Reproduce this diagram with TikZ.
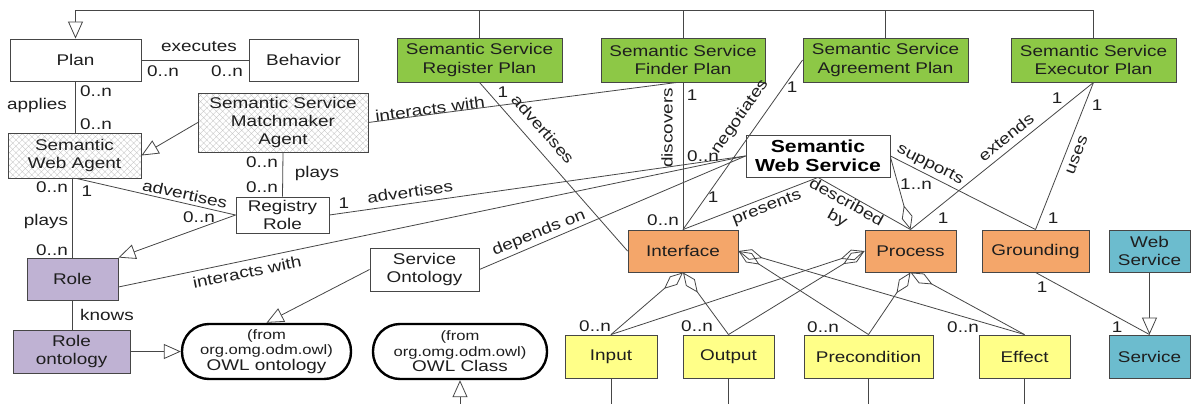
\documentclass[tikz,border=0pt]{standalone}
\usepackage{fontspec}
\setmainfont[FakeStretch=1.22]{Liberation Sans}
\usetikzlibrary{arrows.meta,patterns.meta,calc}

\definecolor{planGreen}{RGB}{141,200,70}
\definecolor{owlsOrange}{RGB}{244,166,106}
\definecolor{ioYellow}{RGB}{255,255,136}
\definecolor{wsBlue}{RGB}{108,188,206}
\definecolor{rolePurple}{RGB}{191,178,211}
\definecolor{lineGray}{RGB}{70,70,70}
\definecolor{textGray}{RGB}{30,30,30}

\newcommand{\fromfont}{\fontsize{13.6}{15.5}\selectfont}

\begin{document}
\begin{tikzpicture}[x=1pt,y=-1pt,
  every node/.style={font=\fontsize{15.5}{18.4}\selectfont, text=textGray},
  box/.style={draw=lineGray, line width=0.9pt, inner sep=1pt, align=center},
  agent/.style={box, pattern={Hatch[angle=45,distance=4.5pt,line width=0.35pt]}, pattern color=black!22},
  owlbox/.style={draw=black, line width=2.4pt, rounded corners=27pt, align=center,
    minimum width=169pt, minimum height=55pt, inner sep=1pt},
  conn/.style={draw=lineGray, line width=0.8pt},
  gen/.style={-{Triangle[length=17pt,width=15pt,fill=white,line width=0.8pt]}},
  agg/.style={-{Diamond[open,length=25pt,width=11pt,line width=0.8pt]}},
  lab/.style={inner sep=0pt}]

\useasboundingbox (0,0) rectangle (1194,404);
\fill[white] (0,0) rectangle (1194,404);

% ---- classes ----
\node[box, minimum width=131pt, minimum height=42pt] (plan) at (75.5,60) {Plan};
\node[box, minimum width=109pt, minimum height=42pt] (beh) at (303.5,60) {Behavior};

\node[box, fill=planGreen, minimum width=165pt, minimum height=44pt] (reg) at (479.5,60) {Semantic Service\\Register Plan};
\node[box, fill=planGreen, minimum width=164pt, minimum height=44pt] (fin) at (683,60) {Semantic Service\\Finder Plan};
\node[box, fill=planGreen, minimum width=165pt, minimum height=44pt] (agr) at (885.5,60) {Semantic Service\\Agreement Plan};
\node[box, fill=planGreen, minimum width=165pt, minimum height=44pt] (exe) at (1093.5,60) {Semantic Service\\Executor Plan};

\node[agent, minimum width=170pt, minimum height=59pt] (mm) at (283,122.5) {Semantic Service\\Matchmaker\\Agent};
\node[agent, minimum width=133pt, minimum height=45pt] (swa) at (74.5,155.5) {Semantic\\Web Agent};
\node[box, minimum width=93pt, minimum height=36pt] (rr) at (282.5,215) {Registry\\Role};

\node[box, fill=rolePurple, minimum width=91pt, minimum height=42pt] (role) at (72.5,279) {Role};
\node[box, fill=rolePurple, minimum width=117pt, minimum height=43pt] (ro) at (71.5,351.5) {Role\\ontology};

\node[owlbox, font=\fromfont] (owlo) at (266.5,351.5) {(from\\org.omg.odm.owl)\\{\fontsize{15.5}{15.5}\selectfont OWL ontology}};
\node[owlbox, minimum width=174pt, font=\fromfont] (owlc) at (460,351.5) {(from\\org.omg.odm.owl)\\{\fontsize{15.5}{15.5}\selectfont OWL Class}};

\node[box, minimum width=109pt, minimum height=43pt] (so) at (424.5,269.5) {Service\\Ontology};

\node[box, minimum width=144pt, minimum height=42pt, font=\bfseries\fontsize{17.4}{19}\selectfont, text=black] (sws) at (818,156) {Semantic\\Web Service};

\node[box, fill=owlsOrange, minimum width=110pt, minimum height=42pt] (ifc) at (683,251) {Interface};
\node[box, fill=owlsOrange, minimum width=91pt, minimum height=42pt] (proc) at (910.5,251) {Process};
\node[box, fill=owlsOrange, minimum width=107pt, minimum height=42pt] (grd) at (1035.5,251) {Grounding};
\node[box, fill=wsBlue, minimum width=81pt, minimum height=42pt] (ws) at (1149.5,251) {Web\\Service};

\node[box, fill=ioYellow, minimum width=92pt, minimum height=43pt] (inp) at (611,356.5) {Input};
\node[box, fill=ioYellow, minimum width=91pt, minimum height=43pt] (out) at (728.5,356.5) {Output};
\node[box, fill=ioYellow, minimum width=129pt, minimum height=43pt] (pre) at (868.5,356.5) {Precondition};
\node[box, fill=ioYellow, minimum width=91pt, minimum height=43pt] (eff) at (1024.5,356.5) {Effect};
\node[box, fill=wsBlue, minimum width=81pt, minimum height=43pt] (svc) at (1149.5,356.5) {Service};

\coordinate (topy) at (0,10);
\coordinate (bot) at (0,404);

% ---- generalisation of the plans ----
\draw[conn,gen] (exe.north) |- (plan.north |- topy) -- (plan.north);
\draw[conn] (reg.north) -- (reg.north |- topy);
\draw[conn] (fin.north) -- (fin.north |- topy);
\draw[conn] (agr.north) -- (agr.north |- topy);

% ---- agents and roles ----
\draw[conn] (plan.east) -- (beh.west);
\draw[conn] (plan.south) -- (plan.south |- swa.north);
\draw[conn,gen] (mm.west) -- (swa.east);
\draw[conn] (mm.south) -- (rr.north);
\draw[conn] ($(swa.south)+(2,0)$) -- (rr.west);
\draw[conn] (role.north |- swa.south) -- (role.north);
\draw[conn,gen] (rr.west) -- (role.north east);
\draw[conn] (rr.east) -- (sws.west);
\draw[conn] ($(role.east)+(0,8)$) -- (sws.west);
\draw[conn] (mm.east) -- ($(fin.south)+(-6,0)$);
\draw[conn] (role.south) -- (role.south |- ro.north);
\draw[conn,gen] (ro.east) -- (owlo.west);
\draw[conn] (so.east) -- (sws.west);
\draw[conn,gen] (so.west) -- (owlo.north);
\draw[conn,gen] (owlc.south |- bot) -- (owlc.south);

% ---- plans and the service description ----
\draw[conn] (reg.south) -- (ifc.west);
\draw[conn] (fin.south) -- (ifc.north);
\draw[conn] (agr.west) -- (ifc.north);
\draw[conn] (sws.south) -- (ifc.north);
\draw[conn] (sws.south) -- (proc.north);
\draw[conn,agg] ($(sws.east)+(0,1)$) -- (proc.north);
\draw[conn] (sws.east) -- (grd.north);
\draw[conn] (exe.south) -- (proc.north);
\draw[conn] (exe.south) -- (grd.north);
\draw[conn] (grd.south) -- (svc.north);
\draw[conn,gen] (ws.south) -- (svc.north);

% ---- parameters of interface and process ----
\draw[conn,agg] (inp.north) -- (ifc.south);
\draw[conn,agg] (out.north) -- (ifc.south);
\draw[conn,agg] (pre.north) -- (ifc.east);
\draw[conn,agg] (eff.north) -- (ifc.east);
\draw[conn,agg] (inp.north) -- (proc.west);
\draw[conn,agg] (out.north) -- (proc.west);
\draw[conn,agg] (pre.north) -- (proc.south);
\draw[conn,agg] (eff.north) -- (proc.south);
\draw[conn] (inp.south) -- (inp.south |- bot);
\draw[conn] (out.south) -- (out.south |- bot);
\draw[conn] (pre.south) -- (pre.south |- bot);
\draw[conn] (eff.south) -- (eff.south |- bot);

% ---- association names and multiplicities ----
\node[lab] (t1) at (199,47) {executes};
\node[lab] (t2) at (163,71) {0..n};
\node[lab] (t3) at (227,71) {0..n};
\node[lab] (t4) at (96,91) {0..n};
\node[lab] (t5) at (37,105) {applies};
\node[lab] (t6) at (96,124) {0..n};
\node[lab] (t7) at (52,187) {0..n};
\node[lab] (t8) at (87,191) {1};
\node[lab] (t9) at (46,221) {plays};
\node[lab] (t10) at (52,250) {0..n};
\node[lab, rotate=-12.4] (t11) at (185,194) {advertises};
\node[lab] (t12) at (199,217) {0..n};
\node[lab] (t13) at (262,162) {0..n};
\node[lab] (t14) at (317,173) {plays};
\node[lab] (t15) at (262,187) {0..n};
\node[lab] (t16) at (344,203) {1};
\node[lab, rotate=7.7] (t17) at (410,192) {advertises};
\node[lab, rotate=11.4] (t18) at (247,272) {interacts with};
\node[lab, rotate=7.4] (t19) at (430,109) {interacts with};
\node[lab, rotate=22] (t20) at (539,233) {depends on};
\node[lab] (t21) at (107,315) {knows};
\node[lab] (t22) at (503,92) {1};
\node[lab, rotate=-48.8] (t23) at (543,129) {advertises};
\node[lab] (t24) at (692,95) {1};
\node[lab, rotate=90] (t25) at (667,128) {discovers};
\node[lab] (t26) at (792,87) {1};
\node[lab, rotate=54.8] (t27) at (740,117) {negotiates};
\node[lab] (t28) at (703,156) {0..n};
\node[lab] (t29) at (713,197) {1};
\node[lab] (t30) at (663,220) {0..n};
\node[lab, rotate=20.8] (t31) at (767,208) {presents};
\node[lab, rotate=-28.7, align=center] (t32) at (841.5,211) {described\\by};
\node[lab] (t33) at (916,184) {1..n};
\node[lab, rotate=-26.6] (t34) at (930,165) {supports};
\node[lab, rotate=39] (t35) at (1006,137) {extends};
\node[lab, rotate=69] (t36) at (1077,155) {uses};
\node[lab] (t37) at (1057,98) {1};
\node[lab] (t38) at (1097,105) {1};
\node[lab] (t39) at (943,218) {1};
\node[lab] (t40) at (1053,218) {1};
\node[lab] (t41) at (1042,287) {1};
\node[lab] (t42) at (1117,327) {1};
\node[lab] (t43) at (595,326) {0..n};
\node[lab] (t44) at (697,326) {0..n};
\node[lab] (t45) at (823,327) {0..n};
\node[lab] (t46) at (963,327) {0..n};
\end{tikzpicture}
\end{document}
